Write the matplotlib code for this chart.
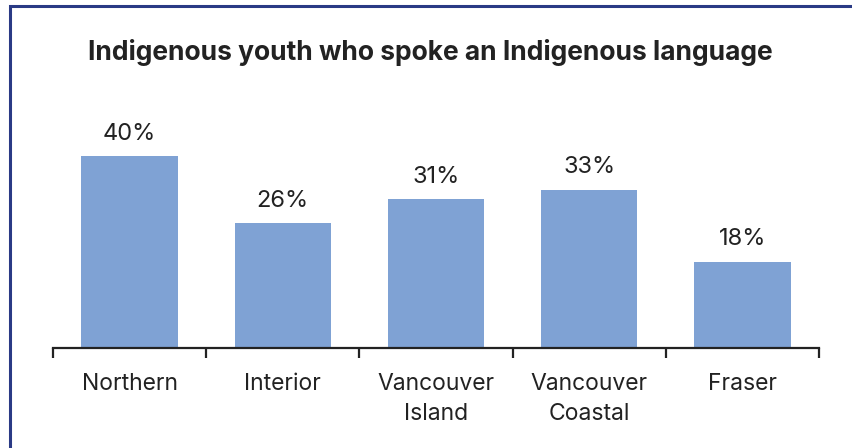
import numpy as np
import matplotlib.pyplot as plt
from matplotlib.patches import Rectangle

plt.rcParams['font.family'] = ['Inter', 'DejaVu Sans']

regions = ['Northern', 'Interior', 'Vancouver\nIsland', 'Vancouver\nCoastal', 'Fraser']
share = [40, 26, 31, 33, 18]  # % of Indigenous youth

W, H = 852, 448
fig = plt.figure(figsize=(W / 100, H / 100), dpi=100)

# navy frame, only left and top edges fall inside the image
fig.patches.append(Rectangle((9.5 / W, -0.1), 1.2, (H - 6) / H + 0.1,
                             transform=fig.transFigure, fill=False,
                             edgecolor='#2a3a85', linewidth=2.2))

ax = fig.add_axes([53 / W, (H - 348) / H, (819 - 53) / W, 248 / H])
x = np.arange(len(regions))
bars = ax.bar(x, share, width=0.63, color='#7fa2d4')
for b, v in zip(bars, share):
    ax.annotate(f'{v}%', (b.get_x() + b.get_width() / 2, v),
                xytext=(0, 8), textcoords='offset points',
                ha='center', va='bottom', fontsize=17, color='#222222')

ax.set_xlim(-0.5, len(regions) - 0.5)
ax.set_ylim(0, 248 / 4.8)
for s in ['top', 'right', 'left']:
    ax.spines[s].set_visible(False)
ax.spines['bottom'].set_linewidth(1.6)
ax.spines['bottom'].set_color('#222222')
ax.set_yticks([])
ax.set_xticks(x)
ax.set_xticklabels(regions, fontsize=16.5, color='#222222', linespacing=1.45)
ax.tick_params(axis='x', which='major', length=0, pad=18)
ax.set_xticks(np.arange(-0.5, len(regions)), minor=True)
ax.tick_params(axis='x', which='minor', length=7, width=1.6, color='#222222')

fig.text(430 / W, 1 - 53 / H, 'Indigenous youth who spoke an Indigenous language',
         ha='center', va='center', fontsize=19, fontweight='bold', color='#222222')

fig.savefig('out.png', dpi=100)
